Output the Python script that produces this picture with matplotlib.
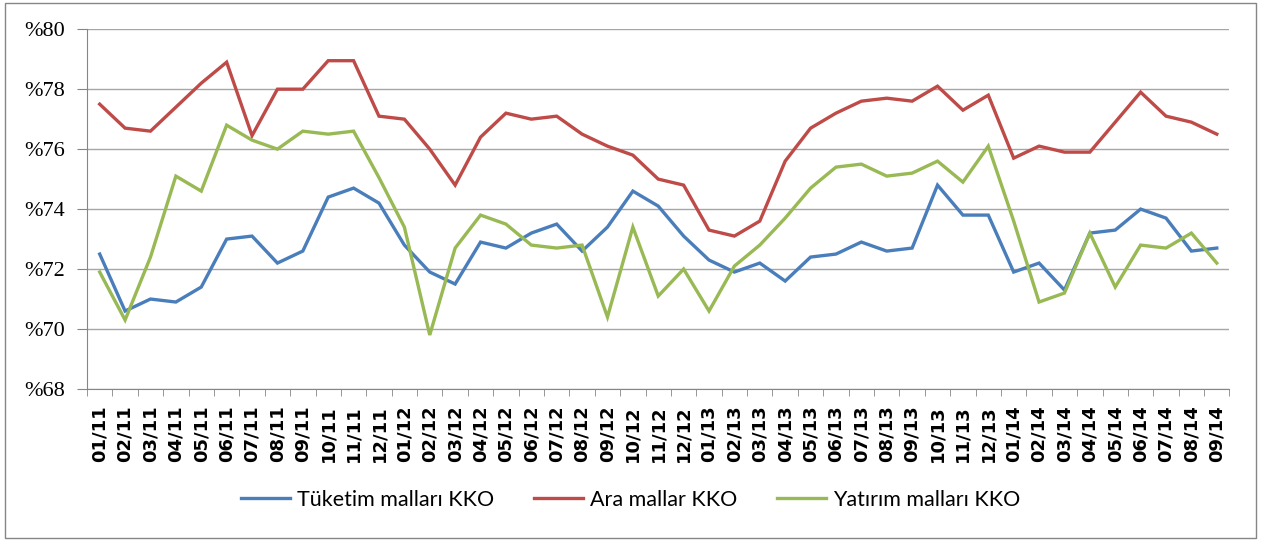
import matplotlib.pyplot as plt
from matplotlib.patches import Rectangle
from matplotlib.ticker import FixedLocator

# aylar 01/11 - 09/14
months = ["01", "02", "03", "04", "05", "06", "07", "08", "09", "10", "11", "12"]
labels = [f"{m}/{y}" for y in ["11", "12", "13"] for m in months] + [f"{m}/14" for m in months[:9]]

tuketim = [72.5, 70.6, 71.0, 70.9, 71.4, 73.0, 73.1, 72.2, 72.6, 74.4, 74.7, 74.2,
           72.8, 71.9, 71.5, 72.9, 72.7, 73.2, 73.5, 72.6, 73.4, 74.6, 74.1, 73.1,
           72.3, 71.9, 72.2, 71.6, 72.4, 72.5, 72.9, 72.6, 72.7, 74.8, 73.8, 73.8,
           71.9, 72.2, 71.3, 73.2, 73.3, 74.0, 73.7, 72.6, 72.7]
ara = [77.5, 76.7, 76.6, 77.4, 78.2, 78.9, 76.45, 78.0, 78.0, 78.95, 78.95, 77.1,
       77.0, 76.0, 74.8, 76.4, 77.2, 77.0, 77.1, 76.5, 76.1, 75.8, 75.0, 74.8,
       73.3, 73.1, 73.6, 75.6, 76.7, 77.2, 77.6, 77.7, 77.6, 78.1, 77.3, 77.8,
       75.7, 76.1, 75.9, 75.9, 76.9, 77.9, 77.1, 76.9, 76.5]
yatirim = [71.9, 70.3, 72.4, 75.1, 74.6, 76.8, 76.3, 76.0, 76.6, 76.5, 76.6, 75.05,
           73.4, 69.8, 72.7, 73.8, 73.5, 72.8, 72.7, 72.8, 70.4, 73.4, 71.1, 72.0,
           70.6, 72.1, 72.8, 73.7, 74.7, 75.4, 75.5, 75.1, 75.2, 75.6, 74.9, 76.1,
           73.6, 70.9, 71.2, 73.2, 71.4, 72.8, 72.7, 73.2, 72.2]

series = [("Tüketim malları KKO", tuketim, "#4A7EBB"),
          ("Ara mallar KKO", ara, "#BE4B48"),
          ("Yatırım malları KKO", yatirim, "#98B954")]

fig = plt.figure(figsize=(12.61, 5.41), dpi=100)
ax = fig.add_axes([0.069, 0.281, 0.906, 0.665])

x = list(range(len(labels)))
for name, vals, col in series:
    ax.plot(x, vals, color=col, lw=2.4, label=name, solid_joinstyle="miter")

ax.set_xlim(-0.5, len(labels) - 0.5)
ax.set_ylim(68, 80)
ax.set_yticks(range(68, 81, 2))
ax.set_yticklabels([f"%{v}" for v in range(68, 81, 2)],
                   family=["Liberation Serif", "DejaVu Serif"], fontsize=16)
ax.yaxis.grid(True, color="#A6A6A6", lw=1)
ax.set_axisbelow(True)

ax.set_xticks(x)
ax.set_xticklabels(labels, rotation=90, fontsize=13, fontweight="bold",
                   family=["DejaVu Sans"])
ax.xaxis.set_minor_locator(FixedLocator([i - 0.5 for i in range(len(labels) + 1)]))
ax.tick_params(axis="x", which="major", length=0, pad=12)
ax.tick_params(axis="x", which="minor", length=5, color="#868686")
ax.tick_params(axis="y", length=7, color="#868686", pad=9)

for side in ["top", "right"]:
    ax.spines[side].set_visible(False)
for side in ["left", "bottom"]:
    ax.spines[side].set_color("#868686")

leg = fig.legend(loc="center", bbox_to_anchor=(0.5, 0.076), ncol=3, frameon=False,
                 prop={"family": "Lato", "size": 15.5}, handlelength=2.3,
                 handletextpad=0.3, columnspacing=1.85)

fig.patches.append(Rectangle((0.004, 0.006), 0.992, 0.988, transform=fig.transFigure,
                             fill=False, edgecolor="#868686", lw=1))

fig.savefig("out.png", dpi=100)
